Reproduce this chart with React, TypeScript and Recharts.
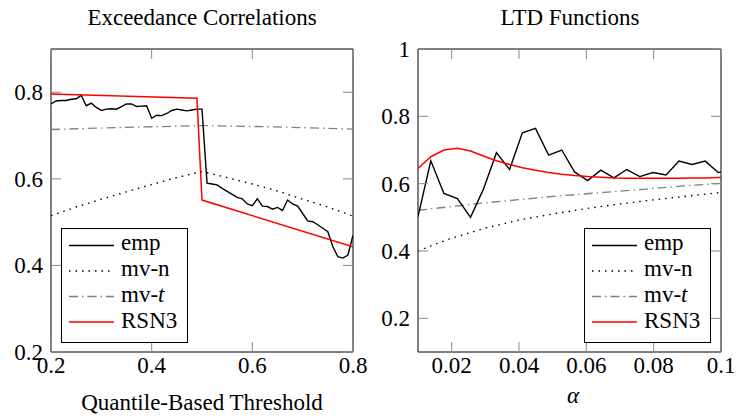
import React from "react";
import { LineChart, Line, XAxis, YAxis, ReferenceArea } from "recharts";

// ---- Exceedance correlations (left panel) ----
const thresholds = [
  0.2, 0.21, 0.22, 0.23, 0.24, 0.25, 0.26, 0.27, 0.28, 0.29, 0.3, 0.31, 0.32, 0.33, 0.34, 0.35,
  0.36, 0.37, 0.38, 0.39, 0.4, 0.41, 0.42, 0.43, 0.44, 0.45, 0.46, 0.47, 0.48, 0.49, 0.5, 0.51,
  0.52, 0.53, 0.54, 0.55, 0.56, 0.57, 0.58, 0.59, 0.6, 0.61, 0.62, 0.63, 0.64, 0.65, 0.66, 0.67,
  0.68, 0.69, 0.7, 0.71, 0.72, 0.73, 0.74, 0.75, 0.76, 0.77, 0.78, 0.79, 0.8,
];
const excEmp = [
  0.773, 0.78, 0.781, 0.781, 0.784, 0.785, 0.793, 0.769, 0.775, 0.765, 0.758, 0.761, 0.762, 0.761,
  0.767, 0.773, 0.773, 0.767, 0.768, 0.769, 0.74, 0.747, 0.746, 0.751, 0.758, 0.761, 0.759, 0.757,
  0.759, 0.761, 0.761, 0.59, 0.588, 0.586, 0.578, 0.571, 0.564, 0.557, 0.554, 0.542, 0.538, 0.554,
  0.537, 0.536, 0.53, 0.534, 0.527, 0.551, 0.542, 0.537, 0.52, 0.503, 0.501, 0.494, 0.486, 0.478,
  0.443, 0.42, 0.417, 0.424, 0.47,
];
const mvnQ = [0.2, 0.25, 0.3, 0.35, 0.4, 0.45, 0.5, 0.55, 0.6, 0.65, 0.7, 0.75, 0.8];
const excMvn = [0.515, 0.535, 0.553, 0.57, 0.587, 0.603, 0.617, 0.603, 0.588, 0.572, 0.553, 0.535, 0.514];
const mvtQ = [0.2, 0.35, 0.5, 0.65, 0.8];
const excMvt = [0.714, 0.719, 0.723, 0.72, 0.715];
const rsnQ = [0.2, 0.49, 0.5, 0.8];
const excRsn = [0.796, 0.786, 0.551, 0.443];

// ---- LTD functions (right panel) ----
const alphas = [
  0.01, 0.0138, 0.0177, 0.0217, 0.0256, 0.0294, 0.0333, 0.0372, 0.041, 0.0449, 0.0488, 0.0527,
  0.0565, 0.0604, 0.0643, 0.0682, 0.072, 0.0759, 0.0798, 0.0837, 0.0875, 0.0914, 0.0953, 0.0992, 0.1,
];
const ltdEmp = [
  0.502, 0.668, 0.571, 0.556, 0.5, 0.583, 0.692, 0.642, 0.751, 0.764, 0.685, 0.7, 0.635, 0.609,
  0.64, 0.617, 0.642, 0.621, 0.633, 0.626, 0.667, 0.657, 0.667, 0.633, 0.635,
];
const ltdRsn = [
  0.645, 0.68, 0.7, 0.705, 0.697, 0.682, 0.668, 0.657, 0.647, 0.64, 0.633, 0.628, 0.624, 0.621,
  0.619, 0.617, 0.616, 0.616, 0.616, 0.616, 0.616, 0.617, 0.617, 0.618, 0.618,
];
const mvnA = [0.01, 0.015, 0.02, 0.03, 0.04, 0.05, 0.06, 0.07, 0.08, 0.09, 0.1];
const ltdMvn = [0.4, 0.42, 0.438, 0.468, 0.492, 0.51, 0.526, 0.54, 0.552, 0.563, 0.574];
const mvtA = [0.01, 0.03, 0.05, 0.07, 0.09, 0.1];
const ltdMvt = [0.521, 0.543, 0.562, 0.578, 0.594, 0.601];

const xTicksLeft = [0.2, 0.4, 0.6, 0.8];
const yTicksLeft = [0.2, 0.4, 0.6, 0.8];
const xTicksRight = [0.02, 0.04, 0.06, 0.08, 0.1];
const yTicksRight = [0.2, 0.4, 0.6, 0.8, 1];

const FS = 23;
const TICK = "#8a8a8a";
const TOP = 49;
const BOTTOM = 352;
const txt = { fontFamily: "Liberation Serif", fontSize: FS };

const pts = (xs: number[], ys: number[]) => xs.map((x, i) => ({ x, y: ys[i] }));

function xTick(props: any) {
  const { x, payload } = props;
  return (
    <g>
      <line x1={x} x2={x} y1={BOTTOM} y2={BOTTOM - 10} stroke={TICK} />
      <line x1={x} x2={x} y1={TOP} y2={TOP + 10} stroke={TICK} />
      <text x={x} y={373} textAnchor="middle" style={txt} fill="#000">
        {String(payload.value)}
      </text>
    </g>
  );
}

const yTick = (left: number, right: number) => (props: any) => {
  const { y, payload } = props;
  return (
    <g>
      <line x1={left} x2={left + 10} y1={y} y2={y} stroke={TICK} />
      <line x1={right} x2={right - 10} y1={y} y2={y} stroke={TICK} />
      <text x={left - 8} y={y + 8} textAnchor="end" style={txt} fill="#000">
        {String(payload.value)}
      </text>
    </g>
  );
};

const legendItems = [
  { name: "emp", stroke: "#000", dash: undefined as string | undefined, width: 1.4 },
  { name: "mv-n", stroke: "#000", dash: "1.5 5", width: 1.4 },
  { name: "mv-t", stroke: "#808080", dash: "9 4 1.5 4", width: 1.3 },
  { name: "RSN3", stroke: "#ff0000", dash: undefined, width: 1.5 },
];

function LegendBox({ x, y }: { x: number; y: number }) {
  return (
    <g>
      <rect x={x + 0.5} y={y + 0.5} width={126} height={114} fill="#fff" stroke="#000" />
      {legendItems.map((it, i) => (
        <g key={it.name}>
          <line
            x1={x + 8}
            x2={x + 53}
            y1={y + 17.5 + 25.5 * i}
            y2={y + 17.5 + 25.5 * i}
            stroke={it.stroke}
            strokeWidth={it.width}
            strokeDasharray={it.dash}
          />
          <text x={x + 60} y={y + 21.5 + 26 * i} style={txt} fill="#000">
            {it.name === "mv-t" ? (
              <>
                mv-<tspan fontStyle="italic">t</tspan>
              </>
            ) : (
              it.name
            )}
          </text>
        </g>
      ))}
    </g>
  );
}

const dotted = "1.5 5";
const dashDot = "9 4 1.5 4";

export default function App() {
  return (
    <div style={{ position: "absolute", left: 0, top: 0, width: 736, height: 418, background: "#fff" }}>
      <div style={{ position: "absolute", left: 0, top: 0 }}>
        <LineChart width={368} height={418} margin={{ top: TOP, right: 15, bottom: 0, left: 0 }}>
          <XAxis
            type="number"
            dataKey="x"
            domain={[0.2, 0.8]}
            ticks={xTicksLeft}
            interval={0}
            height={66}
            axisLine={false}
            tickLine={false}
            tick={xTick}
            allowDataOverflow
          />
          <YAxis
            type="number"
            domain={[0.2, 0.9]}
            ticks={yTicksLeft}
            interval={0}
            width={51}
            axisLine={false}
            tickLine={false}
            tick={yTick(51, 353)}
            allowDataOverflow
          />
          <Line data={pts(mvtQ, excMvt)} dataKey="y" stroke="#808080" strokeWidth={1.3} strokeDasharray={dashDot} dot={false} isAnimationActive={false} />
          <Line data={pts(mvnQ, excMvn)} dataKey="y" stroke="#000" strokeWidth={1.4} strokeDasharray={dotted} dot={false} isAnimationActive={false} />
          <Line data={pts(thresholds, excEmp)} dataKey="y" stroke="#000" strokeWidth={1.4} dot={false} isAnimationActive={false} />
          <Line data={pts(rsnQ, excRsn)} dataKey="y" stroke="#ff0000" strokeWidth={1.5} dot={false} isAnimationActive={false} />
          <ReferenceArea x1={0.2} x2={0.8} y1={0.2} y2={0.9} fill="none" stroke="#000" strokeWidth={1} />
        </LineChart>
      </div>
      <div style={{ position: "absolute", left: 368, top: 0 }}>
        <LineChart width={368} height={418} margin={{ top: TOP, right: 15, bottom: 0, left: 0 }}>
          <XAxis
            type="number"
            dataKey="x"
            domain={[0.01, 0.1]}
            ticks={xTicksRight}
            interval={0}
            height={66}
            axisLine={false}
            tickLine={false}
            tick={xTick}
            allowDataOverflow
          />
          <YAxis
            type="number"
            domain={[0.1, 1]}
            ticks={yTicksRight}
            interval={0}
            width={50}
            axisLine={false}
            tickLine={false}
            tick={yTick(50, 353)}
            allowDataOverflow
          />
          <Line data={pts(mvtA, ltdMvt)} dataKey="y" stroke="#808080" strokeWidth={1.3} strokeDasharray={dashDot} dot={false} isAnimationActive={false} />
          <Line data={pts(mvnA, ltdMvn)} dataKey="y" stroke="#000" strokeWidth={1.4} strokeDasharray={dotted} dot={false} isAnimationActive={false} />
          <Line data={pts(alphas, ltdEmp)} dataKey="y" stroke="#000" strokeWidth={1.4} dot={false} isAnimationActive={false} />
          <Line data={pts(alphas, ltdRsn)} dataKey="y" stroke="#ff0000" strokeWidth={1.5} dot={false} isAnimationActive={false} />
          <ReferenceArea x1={0.01} x2={0.1} y1={0.1} y2={1} fill="none" stroke="#000" strokeWidth={1} />
        </LineChart>
      </div>
      <svg
        width={736}
        height={418}
        style={{ position: "absolute", left: 0, top: 0, pointerEvents: "none" }}
      >
        <text x={202} y={25} textAnchor="middle" style={txt} fill="#000">
          Exceedance Correlations
        </text>
        <text x={570} y={25} textAnchor="middle" style={txt} fill="#000">
          LTD Functions
        </text>
        <text x={202} y={410} textAnchor="middle" style={txt} fill="#000">
          Quantile-Based Threshold
        </text>
        <text x={573} y={403} textAnchor="middle" style={{ ...txt, fontStyle: "italic" }} fill="#000">
          α
        </text>
        <LegendBox x={61} y={228} />
        <LegendBox x={584} y={228} />
      </svg>
    </div>
  );
}
